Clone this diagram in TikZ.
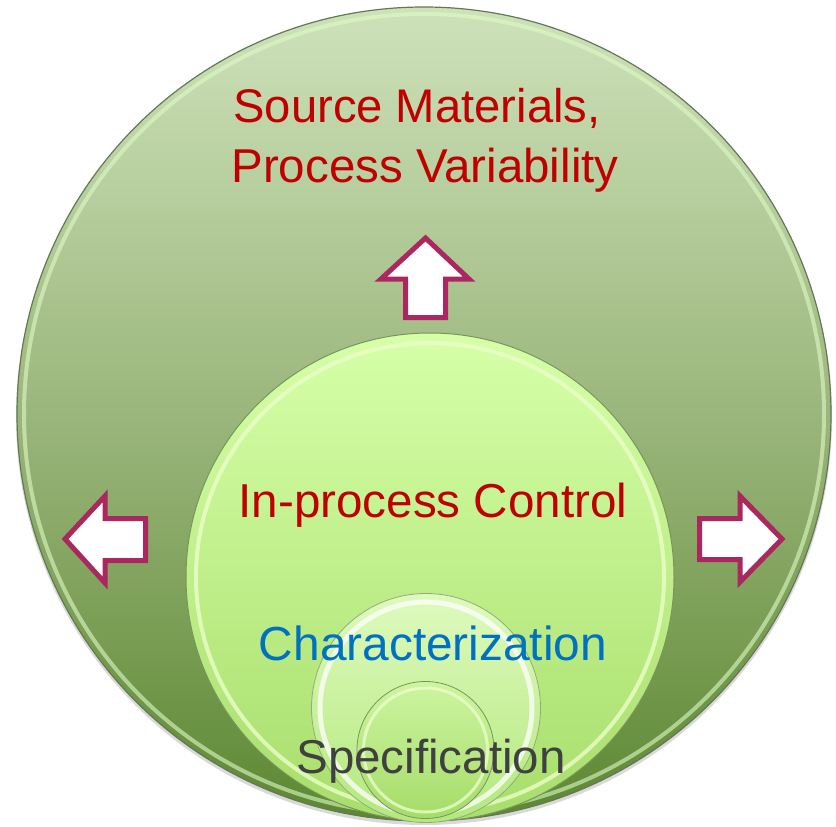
\documentclass[tikz,border=0pt]{standalone}
\usepackage{fontspec}
\setmainfont{Liberation Sans}
\definecolor{bigtop}{RGB}{206,226,186}
\definecolor{bigmid}{RGB}{155,182,124}
\definecolor{bigbot}{RGB}{92,136,50}
\definecolor{bigedge}{RGB}{100,120,85}
\definecolor{bigrim}{RGB}{222,250,196}
\definecolor{midtop}{RGB}{214,255,168}
\definecolor{midbot}{RGB}{168,222,108}
\definecolor{midedge}{RGB}{120,150,90}
\definecolor{midrim}{RGB}{238,255,205}
\definecolor{chtop}{RGB}{222,250,190}
\definecolor{chbot}{RGB}{180,232,125}
\definecolor{sptop}{RGB}{205,245,160}
\definecolor{spbot}{RGB}{165,220,105}
\definecolor{arrowline}{RGB}{170,40,95}
\definecolor{txtred}{RGB}{192,0,0}
\definecolor{txtblue}{RGB}{0,112,192}
\definecolor{txtgray}{RGB}{64,64,64}
\tikzset{
  disc/.style={circle, inner sep=0pt, outer sep=0pt},
  bigdisc/.style={disc, minimum size=814pt, top color=bigtop, bottom color=bigbot, middle color=bigmid, draw=bigedge, line width=1.2pt},
  middisc/.style={disc, minimum size=488pt, top color=midtop, bottom color=midbot, draw=midedge, line width=1pt},
  chdisc/.style={disc, minimum size=229pt, top color=chtop, bottom color=chbot, draw=midedge!80, line width=0.8pt},
  spdisc/.style={disc, minimum size=137pt, top color=sptop, bottom color=spbot, draw=midedge, line width=0.8pt},
  rim/.style={draw=#1, line width=4pt, opacity=0.75},
  fatarrow/.style={fill=white, draw=arrowline, line width=5pt, line join=miter},
  lbl/.style={anchor=base, inner sep=0pt},
}
\begin{document}
\begin{tikzpicture}[x=1pt,y=-1pt]
\useasboundingbox (0,0) rectangle (836,827);
% shadow
\fill[black, opacity=0.15] (424,417) circle[radius=408];
% outer circle
\node[bigdisc] (outer) at (424,414) {};
\draw[rim=bigrim, opacity=0.6] (outer.center) circle[radius=400];
% middle circle
\node[middisc] (middle) at (430,577) {};
\draw[rim=midrim] (middle.center) circle[radius=234];
% characterization circle
\node[chdisc] (charc) at (426,708) {};
\draw[rim=white, line width=5pt] (charc.center) circle[radius=106];
% specification circle
\node[spdisc] (specc) at (425.5,750) {};
\draw[rim=midrim, line width=3pt] (specc.center) circle[radius=62];
% arrows
\draw[fatarrow] (425.5,238) -- (469,279) -- (445.5,279) -- (445.5,317.5) -- (405.5,317.5) -- (405.5,279) -- (381,279) -- cycle;
\draw[fatarrow] (65,539) -- (105,496) -- (105,518.5) -- (145.5,518.5) -- (145.5,560.5) -- (105,560.5) -- (105,583) -- cycle;
\draw[fatarrow] (782,539) -- (740,496) -- (740,518.5) -- (699.5,518.5) -- (699.5,559.5) -- (740,559.5) -- (740,582) -- cycle;
% labels
\node[lbl, text=txtred, font=\fontsize{47.2}{56}\selectfont] (src1) at (417,122) {Source Materials,};
\node[lbl, text=txtred, font=\fontsize{47.5}{56}\selectfont] (src2) at (425,182) {Process Variability};
\node[lbl, text=txtred, font=\fontsize{47.6}{56}\selectfont] (ipc) at (433,517) {In-process Control};
\node[lbl, text=txtblue, font=\fontsize{47.8}{56}\selectfont] (chr) at (433,660) {Characterization};
\node[lbl, text=txtgray, font=\fontsize{47.5}{56}\selectfont] (spc) at (431,773) {Specification};
\end{tikzpicture}
\end{document}
